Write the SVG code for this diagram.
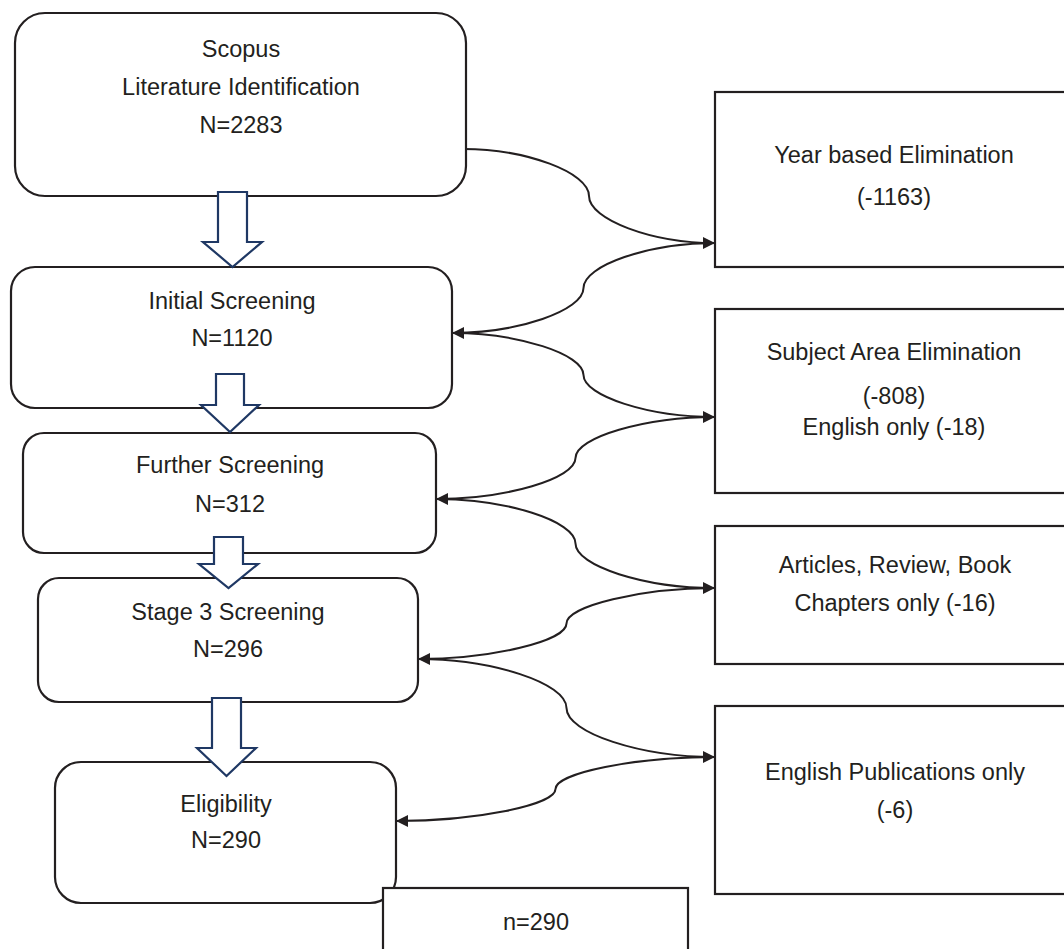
<svg xmlns="http://www.w3.org/2000/svg" width="1064" height="949" viewBox="0 0 1064 949">
  <style>
    .box { fill: #ffffff; stroke: #231f20; stroke-width: 2.2; }
    .blk { fill: #ffffff; stroke: #1f3864; stroke-width: 2.2; stroke-linejoin: miter; }
    .con { fill: none; stroke: #231f20; stroke-width: 2; }
    text { font-family: "Liberation Sans", Arial, sans-serif; font-size: 23.5px; fill: #231f20; text-anchor: middle; }
  </style>
  <defs>
    <marker id="ah" markerUnits="userSpaceOnUse" markerWidth="13" markerHeight="12" refX="12" refY="6" orient="auto">
      <path d="M0,0 L12,6 L0,12 z" fill="#231f20"/>
    </marker>
  </defs>

  <rect width="1064" height="949" fill="#ffffff"/>

  <g id="connectors">
    <path class="con" marker-end="url(#ah)" d="M463,149 C526,149 589,172.5 589,196 C589,219.5 652,243 715,243"/>
    <path class="con" marker-end="url(#ah)" d="M715,243 C649,243 583.5,265.5 583.5,288 C583.5,310.5 518,333 452,333"/>
    <path class="con" marker-end="url(#ah)" d="M452,333 C518,333 583.5,354 583.5,375 C583.5,396 649,417 715,417"/>
    <path class="con" marker-end="url(#ah)" d="M715,417 C645,417 575.5,437.5 575.5,458 C575.5,478.5 506,499 436,499"/>
    <path class="con" marker-end="url(#ah)" d="M436,499 C506,499 575.5,521 575.5,543.5 C575.5,566 645,588 715,588"/>
    <path class="con" marker-end="url(#ah)" d="M715,588 C641,588 566.5,606 566.5,623.5 C566.5,641 492,659 418,659"/>
    <path class="con" marker-end="url(#ah)" d="M418,659 C492,659 566.5,683 566.5,708 C566.5,733 641,757 715,757"/>
    <path class="con" marker-end="url(#ah)" d="M715,757 C635,757 555.5,773 555.5,789 C555.5,805 476,821 396,821"/>
  </g>

  <g id="n1">
    <rect class="box" x="15" y="13" width="451" height="183" rx="30" ry="30"/>
    <text x="241" y="57">Scopus</text>
    <text x="241" y="95">Literature Identification</text>
    <text x="241" y="133">N=2283</text>
  </g>
  <g id="n2">
    <rect class="box" x="11" y="267" width="441" height="141" rx="24" ry="24"/>
    <text x="232" y="309">Initial Screening</text>
    <text x="232" y="346">N=1120</text>
  </g>
  <g id="n3">
    <rect class="box" x="23" y="433" width="413" height="120" rx="21" ry="21"/>
    <text x="230" y="473">Further Screening</text>
    <text x="230" y="512">N=312</text>
  </g>
  <g id="n4">
    <rect class="box" x="38" y="578" width="380" height="124" rx="21" ry="21"/>
    <text x="228" y="620">Stage 3 Screening</text>
    <text x="228" y="657">N=296</text>
  </g>
  <g id="n5">
    <rect class="box" x="55" y="762" width="341" height="141" rx="26" ry="26"/>
    <text x="226" y="812">Eligibility</text>
    <text x="226" y="848">N=290</text>
  </g>

  <g id="arrow1"><path class="blk" d="M218,192 L247,192 L247,242 L262,242 L232.5,267 L203,242 L218,242 Z"/></g>
  <g id="arrow2"><path class="blk" d="M216,374 L244,374 L244,405 L259,405 L230,432 L201,405 L216,405 Z"/></g>
  <g id="arrow3"><path class="blk" d="M214,537 L243,537 L243,564 L258,564 L228.5,588 L199,564 L214,564 Z"/></g>
  <g id="arrow4"><path class="blk" d="M212,698 L241,698 L241,748 L256,748 L226.5,776 L197,748 L212,748 Z"/></g>

  <g id="rA">
    <rect class="box" x="715" y="92" width="360" height="175"/>
    <text x="894" y="163">Year based Elimination</text>
    <text x="894" y="205">(-1163)</text>
  </g>
  <g id="rB">
    <rect class="box" x="715" y="309" width="360" height="184"/>
    <text x="894" y="360">Subject Area Elimination</text>
    <text x="894" y="404">(-808)</text>
    <text x="894" y="435">English only (-18)</text>
  </g>
  <g id="rC">
    <rect class="box" x="715" y="526" width="360" height="138"/>
    <text x="895" y="573">Articles, Review, Book</text>
    <text x="895" y="611">Chapters only (-16)</text>
  </g>
  <g id="rE">
    <rect class="box" x="715" y="706" width="360" height="188"/>
    <text x="895" y="780">English Publications only</text>
    <text x="895" y="818">(-6)</text>
  </g>

  <g id="n6">
    <rect class="box" x="383" y="888" width="305" height="80"/>
    <text x="536" y="930">n=290</text>
  </g>
</svg>
